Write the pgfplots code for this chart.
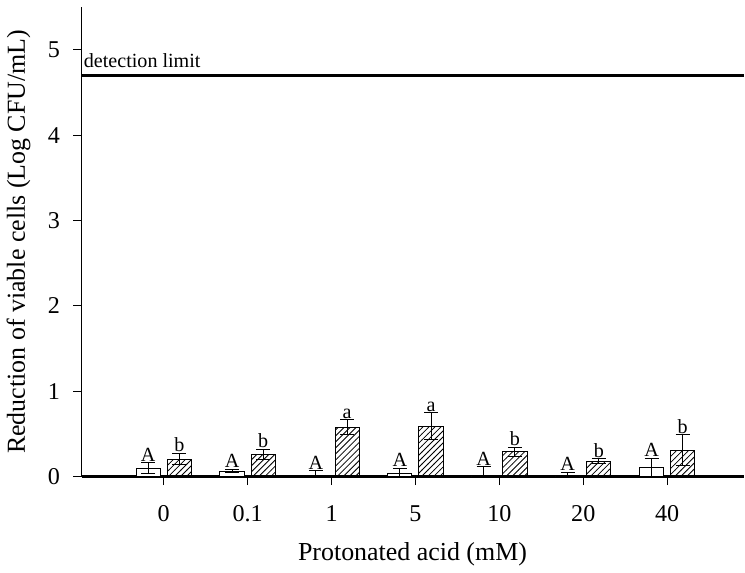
\documentclass[border=0pt]{standalone}
\usepackage{fontspec}
\setmainfont{Liberation Serif}
\usepackage{pgfplots}
\pgfplotsset{compat=1.18}
\usetikzlibrary{patterns}

% open bars: x, y, err+, err-
\pgfplotstableread{
x       y     ep     em
-0.186  0.09  0.075  0.05
0.814   0.065 0.02   0.02
1.814   0.0   0.07   0.0
2.814   0.04  0.06   0.04
3.814   0.0   0.12   0.0
4.814   0.0   0.05   0.0
5.814   0.11  0.105  0.105
}\opentab
% hatched bars
\pgfplotstableread{
x       y     ep     em
0.186   0.20  0.07   0.06
1.186   0.26  0.06   0.055
2.186   0.57  0.095  0.08
3.186   0.59  0.16   0.16
4.186   0.29  0.055  0.055
5.186   0.18  0.03   0.03
6.186   0.31  0.18   0.18
}\hatchtab
% letters above error bars
\pgfplotstableread{
x       y      lab
-0.186  0.165  A
0.814   0.085  A
1.814   0.07   A
2.814   0.10   A
3.814   0.12   A
4.814   0.05   A
5.814   0.215  A
0.186   0.27   b
1.186   0.32   b
2.186   0.665  a
3.186   0.75   a
4.186   0.345  b
5.186   0.21   b
6.186   0.49   b
}\labtab

\begin{document}
\begin{tikzpicture}
\begin{axis}[
  scale only axis, width=329.5pt, height=233.75pt,
  xmin=-0.98, xmax=6.91, ymin=0, ymax=5.5,
  axis x line=bottom, axis y line=left,
  axis line style={-},
  x axis line style={line width=1.4pt},
  y axis line style={line width=0.5pt},
  tick align=outside, major tick length=4.2pt,
  tick style={black, line width=0.5pt},
  xtick={0,...,6}, xticklabels={0,0.1,1,5,10,20,40},
  ytick={0,...,5},
  /pgf/number format/assume math mode=true,
  ticklabel style={font=\fontsize{12}{14}\selectfont},
  xticklabel style={yshift=-6.5pt},
  yticklabel style={xshift=-3pt},
  xlabel={Protonated acid (mM)},
  ylabel={Reduction of viable cells (Log CFU/mL)},
  label style={font=\fontsize{12.9}{15}\selectfont},
  xlabel style={at={(axis description cs:0.5,-0.165)}, anchor=center},
  ylabel style={at={(axis description cs:-0.095,0.5)}, anchor=center},
  clip=false,
]
\addplot[ybar, bar width=12pt, bar shift=0pt, draw=black, line width=0.5pt, fill=white,
  error bars/.cd, y dir=both, y explicit,
  error mark options={rotate=90, black, mark size=3.5pt, line width=0.5pt},
  error bar style={black, line width=0.5pt}]
  table[x=x, y=y, y error plus=ep, y error minus=em] {\opentab};
\addplot[ybar, bar width=12pt, bar shift=0pt, draw=black, line width=0.5pt,
  pattern=north east lines, pattern color=black,
  error bars/.cd, y dir=both, y explicit,
  error mark options={rotate=90, black, mark size=3.5pt, line width=0.5pt},
  error bar style={black, line width=0.5pt}]
  table[x=x, y=y, y error plus=ep, y error minus=em] {\hatchtab};
\addplot[only marks, mark=none, point meta=explicit symbolic,
  nodes near coords, nodes near coords align={anchor=south},
  every node near coord/.append style={font=\fontsize{10}{11}\selectfont, inner sep=0.5pt}]
  table[x=x, y=y, meta=lab] {\labtab};
\addplot[black, line width=1.5pt] coordinates {(-0.98,4.7) (6.91,4.7)};
\node[anchor=base west, font=\fontsize{10}{12}\selectfont, inner sep=0pt, xshift=1pt, yshift=4pt]
  at (axis cs:-0.98,4.7) {detection limit};
\path (rel axis cs:0,1) -- ++(0,3.5pt);
\end{axis}
\end{tikzpicture}
\end{document}
